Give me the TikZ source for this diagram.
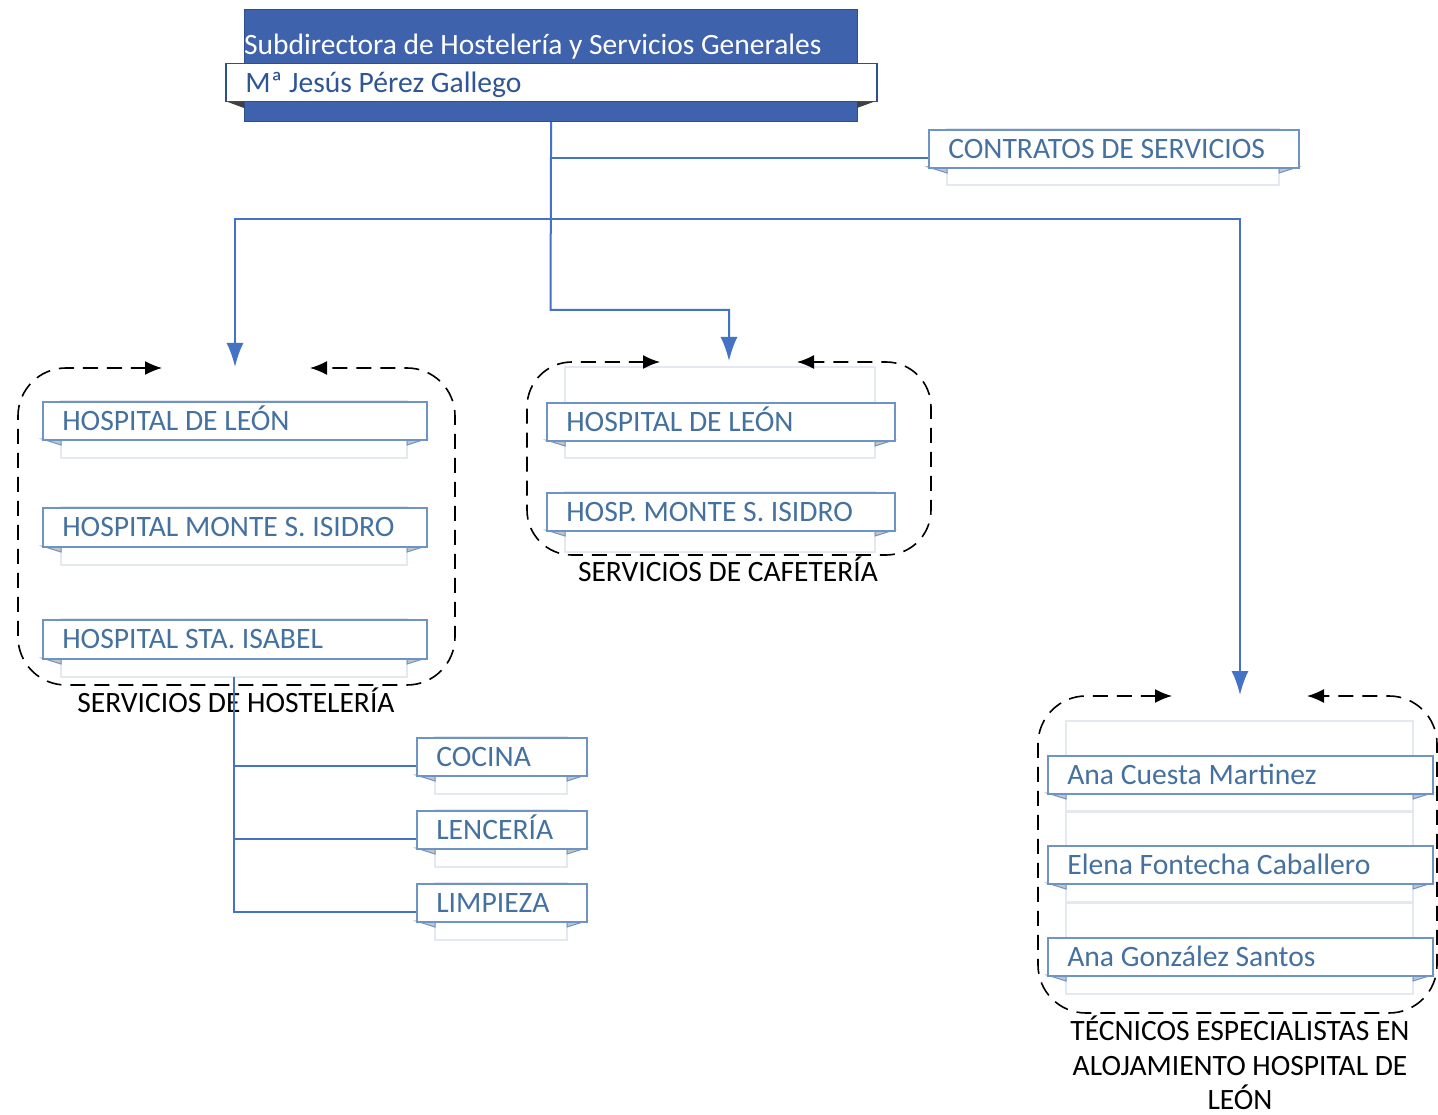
\documentclass[tikz,border=0pt]{standalone}
\usepackage{fontspec}
\setmainfont{Carlito}
\usetikzlibrary{arrows.meta}
\definecolor{hdrblue}{HTML}{3F62AD}
\definecolor{hdredge}{HTML}{2F4E8C}
\definecolor{namecol}{HTML}{2F5597}
\definecolor{labcol}{HTML}{44719F}
\definecolor{frontedge}{HTML}{6E94C6}
\definecolor{backedge}{HTML}{E3E8F1}
\definecolor{connblue}{HTML}{4472C4}
\definecolor{foldgray}{HTML}{C4C4C4}
\definecolor{folddark}{HTML}{404040}
\newcommand\lab{\fontsize{29.6}{35}\selectfont}
\newcommand\labbig{\fontsize{29.5}{35}\selectfont}
\tikzset{
  frontbox/.style={draw=frontedge, line width=1.6pt, fill=white, inner xsep=19.5pt, inner ysep=0pt,
    align=flush left, font=\lab, text=labcol, text height=18.9pt, text depth=0pt},
  backbox/.style={draw=backedge, line width=1.6pt, fill=white},
  foldshape/.style={fill=foldgray, draw=frontedge, line width=1pt},
  conn/.style={draw=connblue, line width=2pt},
  bluetip/.tip={Latex[length=24pt,width=17pt]},
  blacktip/.tip={Latex[length=17pt,width=14pt]},
  grp/.style={draw=black, line width=1.6pt, dash pattern=on 15pt off 9pt},
  grplabel/.style={font=\labbig, text=black, inner sep=0pt},
}
% name, x1, y1, x2, y2, backtop, backbottom, text
\newcommand\rib[8]{%
  \draw[backbox] (#2+19,#6) rectangle (#4-19,#7);
  \filldraw[foldshape] (#2,#5) -- (#2+19,#5+6) -- (#2+19,#5) -- cycle;
  \filldraw[foldshape] (#4,#5) -- (#4-19,#5+6) -- (#4-19,#5) -- cycle;
  \pgfmathsetmacro\ribw{#4-#2-39}%
  \pgfmathsetmacro\ribh{#5-#3}%
  \node[frontbox, anchor=north west, minimum height=\ribh pt, text width=\ribw pt] (#1) at (#2,#3) {#8};
}
\begin{document}
\begin{tikzpicture}[x=1pt,y=-1pt]
\useasboundingbox (0,0) rectangle (1438,1115);
\fill[white] (0,0) rectangle (1438,1115);

% header
\node[draw=hdredge, line width=1.2pt, fill=hdrblue, anchor=north west, minimum width=613pt, minimum height=112pt, inner sep=0pt] (hdr) at (244,9) {};
\node[anchor=base west, inner sep=0pt, font=\labbig, text=white] (hdrtitle) at (244,55) {Subdirectora de Hostelería y Servicios Generales};
\fill[folddark] (225,101) -- (244,108) -- (244,101) -- cycle;
\fill[folddark] (876,101) -- (857,108) -- (857,101) -- cycle;
\node[draw=hdredge, line width=1.5pt, fill=white, anchor=north west, minimum width=651pt, minimum height=38pt,
  text width=612pt, inner xsep=19.5pt, inner ysep=0pt, align=flush left, font=\lab, text=namecol,
  text height=18.9pt, text depth=0pt] (hdrname) at (225,63) {Mª Jesús Pérez Gallego};

% ribbons
\rib{contr}{928}{129}{1298}{167}{129}{185}{CONTRATOS DE SERVICIOS}
\rib{h1}{42}{401}{426}{439}{401}{458}{HOSPITAL DE LEÓN}
\rib{h2}{42}{507}{426}{546}{507}{565}{HOSPITAL MONTE S. ISIDRO}
\rib{h3}{42}{619}{426}{658}{619}{677}{HOSPITAL STA. ISABEL}
\rib{c1}{546}{402}{894}{440}{367}{458}{HOSPITAL DE LEÓN}
\rib{c2}{546}{492}{894}{530}{492}{552}{HOSP. MONTE S. ISIDRO}
\rib{k1}{416}{737}{586}{775}{737}{794}{COCINA}
\rib{k2}{416}{810}{586}{848}{810}{867}{LENCERÍA}
\rib{k3}{416}{883}{586}{921}{883}{940}{LIMPIEZA}
\rib{t1}{1047}{755}{1432}{793}{721}{811}{Ana Cuesta Martinez}
\rib{t2}{1047}{845}{1432}{883}{812}{902}{Elena Fontecha Caballero}
\rib{t3}{1047}{937}{1432}{975}{903}{994}{Ana González Santos}

% dashed groups
\draw[grp, {blacktip}-{blacktip}, rounded corners=48pt] (162,368) -- (18,368) -- (18,685) -- (455,685) -- (455,368) -- (310,368);
\draw[grp, {blacktip}-{blacktip}, rounded corners=45pt] (660,362) -- (527,362) -- (527,555) -- (931,555) -- (931,362) -- (797,362);
\draw[grp, {blacktip}-{blacktip}, rounded corners=48pt] (1172,696) -- (1038,696) -- (1038,1013) -- (1437,1013) -- (1437,696) -- (1307,696);

% group labels
\node[grplabel, text height=18.7pt, text depth=0pt] (hoslab) at (236,703) {SERVICIOS DE HOSTELERÍA};
\node[grplabel, text height=18.7pt, text depth=0pt] (caflab) at (728,572) {SERVICIOS DE CAFETERÍA};
\node[grplabel, anchor=base] (teclab1) at (1240,1040) {TÉCNICOS ESPECIALISTAS EN};
\node[grplabel, anchor=base] (teclab2) at (1240,1075) {ALOJAMIENTO HOSPITAL DE};
\node[grplabel, anchor=base] (teclab3) at (1240,1109) {LEÓN};

% connector points
\coordinate (hosTop) at (235,367);
\coordinate (cafTop) at (729,361);
\coordinate (tecTop) at (1240,695);
\coordinate (j1) at (550.5,310);
\coordinate (jL) at (235,219);
\coordinate (jR) at (1240,219);
\coordinate (hosBot) at (234,677);
\coordinate (contrIn) at ([yshift=-9pt]contr.west);
\coordinate (k1in) at ([yshift=-9.5pt]k1.west);
\coordinate (k2in) at ([yshift=-9.5pt]k2.west);
\coordinate (k3in) at ([yshift=-9.5pt]k3.west);

% connectors
\draw[conn, -{bluetip}] (hdr.south) -- (j1) -| (cafTop);
\draw[conn] (hdr.south |- contrIn) -- (contrIn);
\draw[conn, {bluetip}-{bluetip}] (hosTop) -- (jL) -- (jR) -- (tecTop);
\draw[conn] (hosBot) |- (k3in);
\draw[conn] (hosBot |- k1in) -- (k1in);
\draw[conn] (hosBot |- k2in) -- (k2in);
\end{tikzpicture}
\end{document}
